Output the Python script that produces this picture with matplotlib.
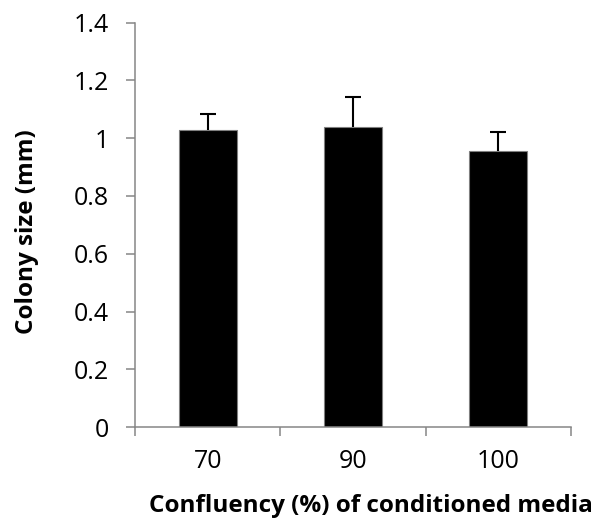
import matplotlib
matplotlib.use("Agg")
import matplotlib.pyplot as plt
import numpy as np

categories = ["70", "90", "100"]
colony_size = [1.03, 1.038, 0.955]
colony_err = [0.055, 0.105, 0.068]
y_ticks = [0, 0.2, 0.4, 0.6, 0.8, 1.0, 1.2, 1.4]
y_tick_labels = ["0", "0.2", "0.4", "0.6", "0.8", "1", "1.2", "1.4"]

plt.rcParams["font.family"] = ["Open Sans", "DejaVu Sans"]

fig = plt.figure(figsize=(5.97, 5.20), dpi=100)
ax = fig.add_axes([0.2261, 0.1788, 0.7303, 0.7775])

x = np.arange(len(categories))
ax.bar(x, colony_size, width=0.4, color="black", edgecolor="#7f7f7f", linewidth=0.8, zorder=2)
eb = ax.errorbar(x, colony_size, yerr=[np.zeros(len(x)), colony_err], fmt="none",
                 ecolor="black", elinewidth=1.5, capsize=6, capthick=1.5, zorder=3)
# keep only the upper caps
caps = eb.lines[1]
if len(caps) == 2:
    caps[0].set_visible(False)

ax.set_xlim(-0.5, len(categories) - 0.5)
ax.set_ylim(0, 1.4)
ax.set_yticks(y_ticks)
ax.set_yticklabels(y_tick_labels, fontsize=18)
ax.set_xticks(x)
ax.set_xticklabels(categories, fontsize=18)
ax.tick_params(axis="x", length=0, pad=16)
ax.set_xticks(np.arange(-0.5, len(categories)), minor=True)
ax.tick_params(axis="x", which="minor", length=6.5, width=1.1, color="#868686", direction="out")
ax.tick_params(axis="y", length=6.5, width=1.1, color="#868686", direction="out", pad=12)

for side in ["top", "right"]:
    ax.spines[side].set_visible(False)
for side in ["left", "bottom"]:
    ax.spines[side].set_color("#868686")
    ax.spines[side].set_linewidth(1.1)

ax.set_xlabel("Confluency (%) of conditioned media", fontsize=17.5, fontweight="bold", labelpad=14)
ax.set_ylabel("Colony size (mm)", fontsize=17.5, fontweight="bold", labelpad=25)
ax.xaxis.label.set_x(0.542)
ax.yaxis.label.set_y(0.483)

fig.savefig("out.png", dpi=100)
